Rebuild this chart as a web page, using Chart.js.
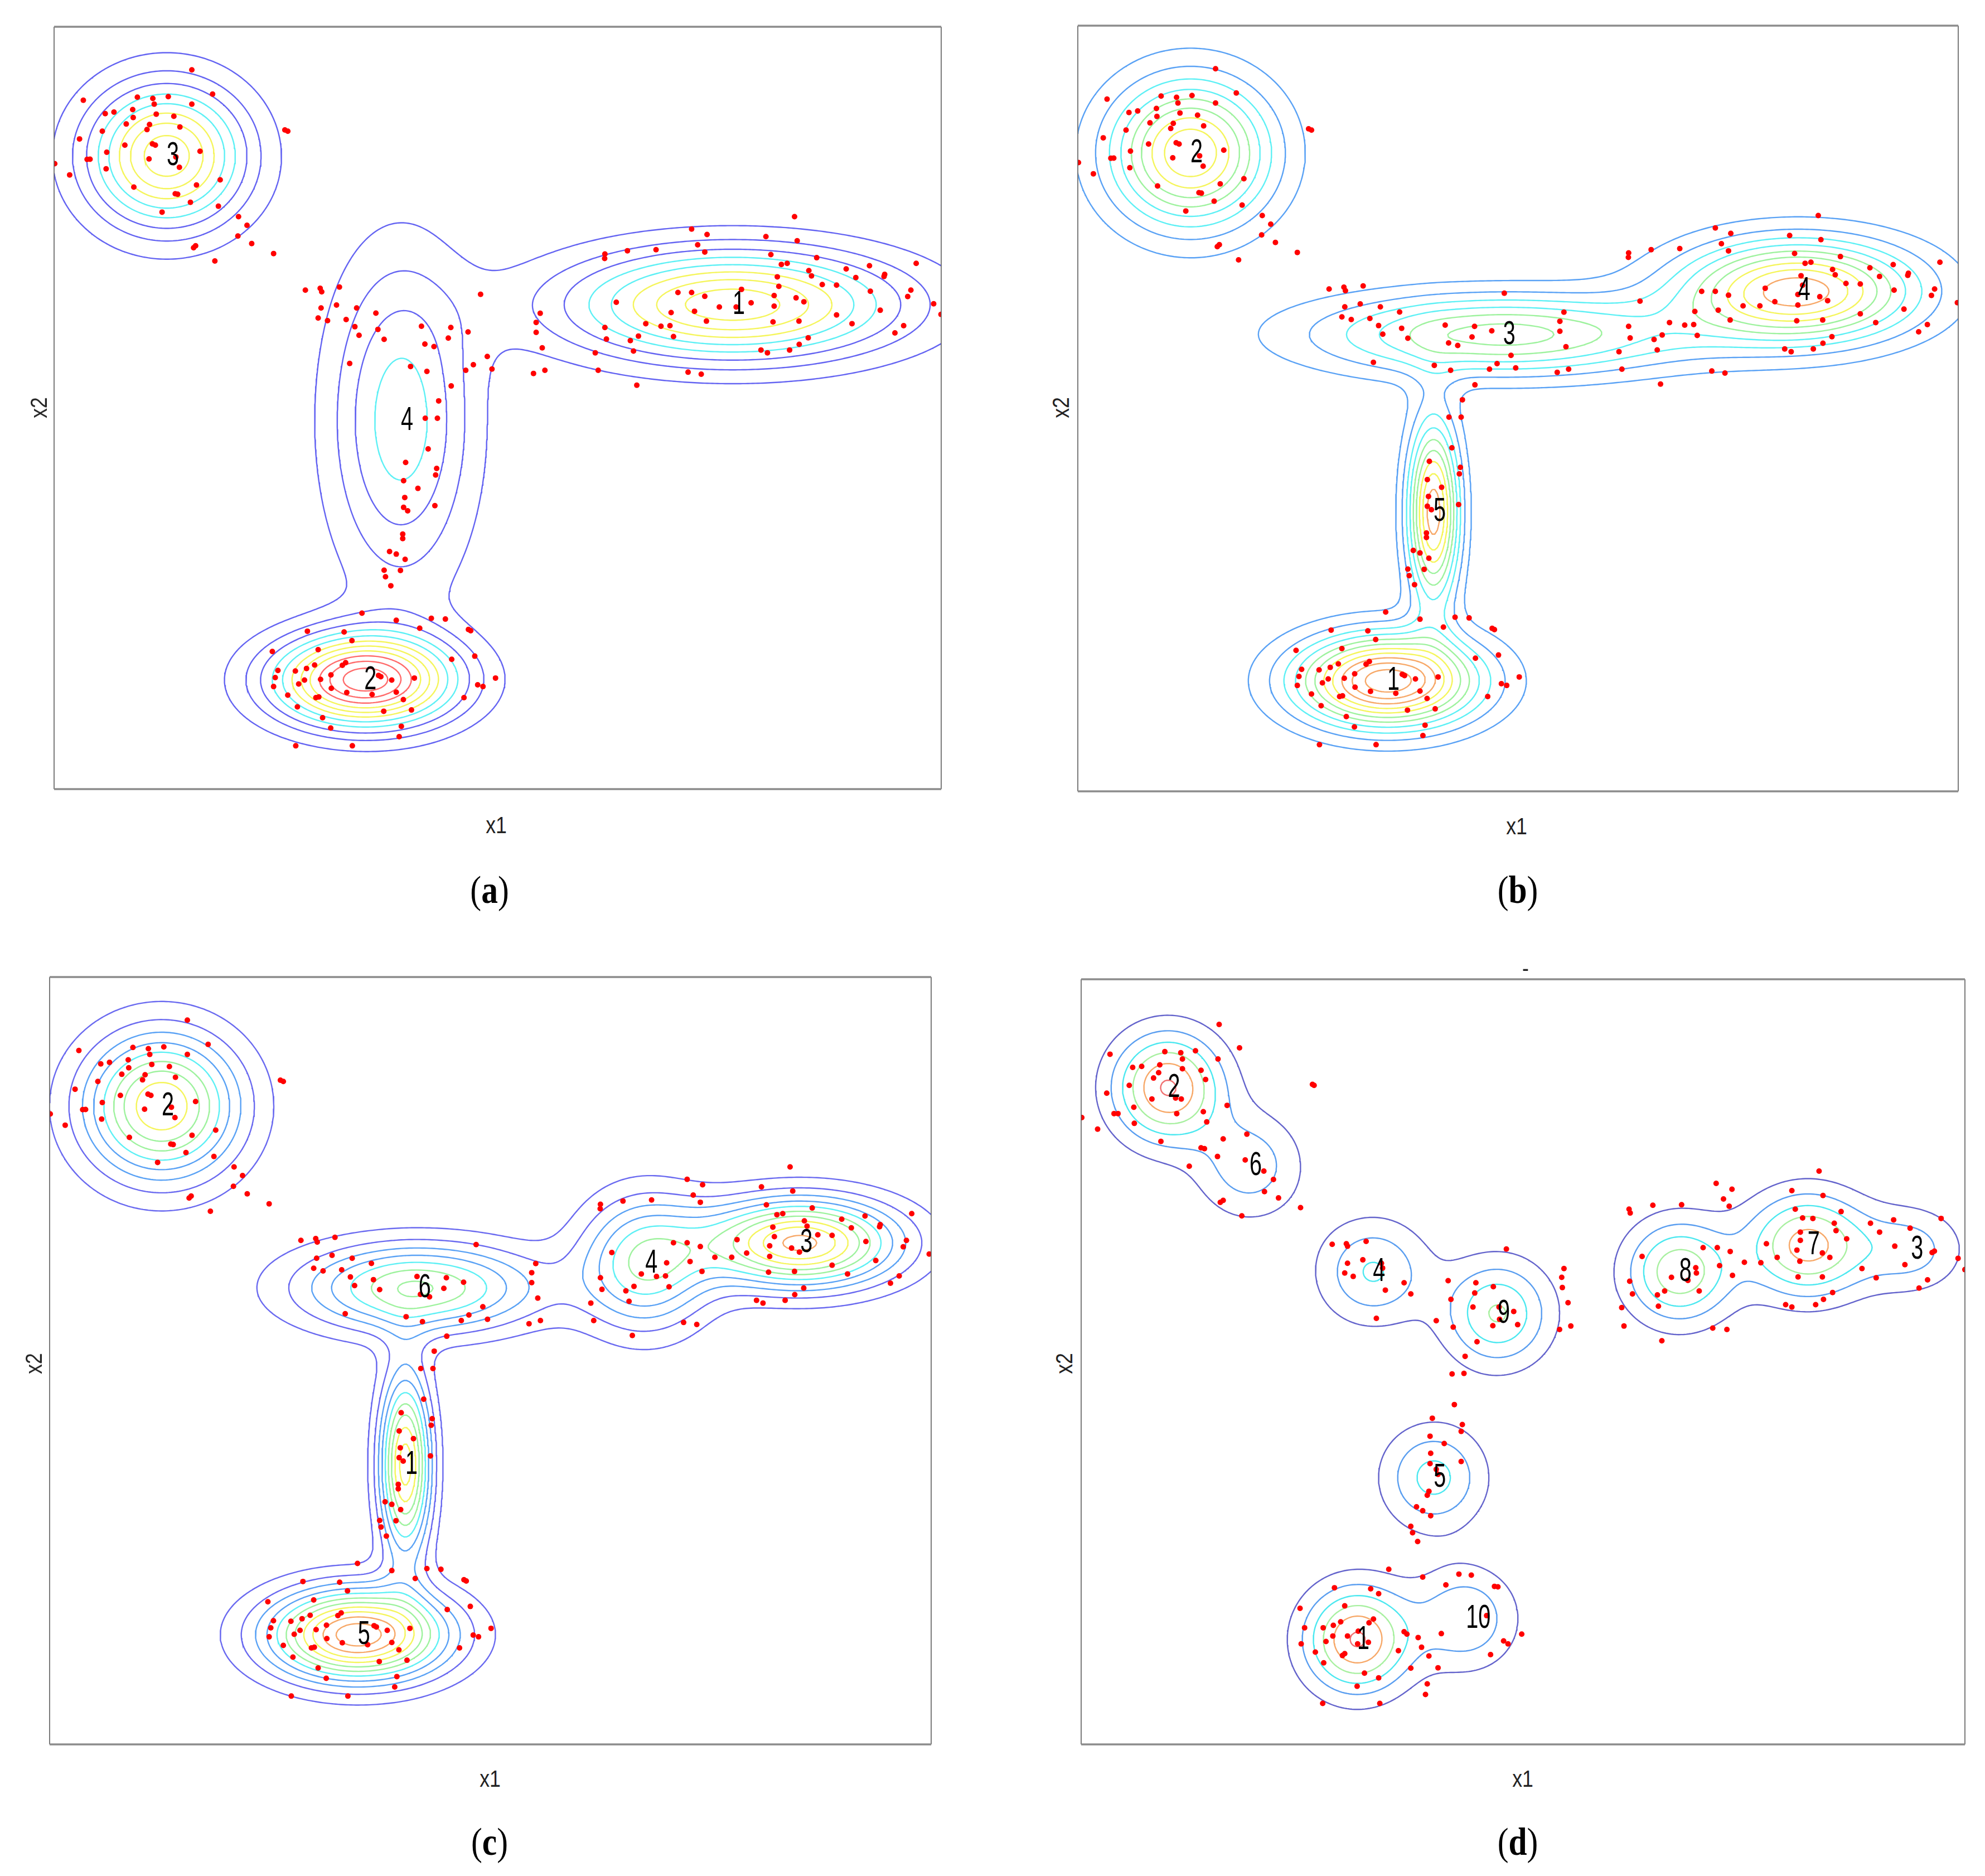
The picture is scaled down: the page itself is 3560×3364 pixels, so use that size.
<!DOCTYPE html>
<html>
<head>
<meta charset="utf-8">
<script src="https://cdn.jsdelivr.net/npm/chart.js@4.4.0/dist/chart.umd.min.js"></script>
<style>
  html, body { margin: 0; padding: 0; background: #fff; }
  #page { position: relative; width: 3560px; height: 3364px; overflow: hidden; background: #fff; }
  #page canvas { position: absolute; }
  .axlab { position: absolute; font-family: "Liberation Sans", Arial, sans-serif; font-size: 42px; color: #222; white-space: nowrap; }
  .cap { position: absolute; font-family: "Liberation Serif", "DejaVu Serif", serif; font-size: 70px; color: #000; white-space: nowrap; transform: translate(-50%, -50%); }
</style>
</head>
<body>
<div id="page"></div>
<script>
// observations shared by panels (a), (b) and (c): [x1, x2] (x2 counted from the top of the box)
const pointsABC = [
  [108.8,34.0],[23.1,58.0],[65.8,55.6],[78.0,56.6],[79.1,61.1],[90.2,55.2],[125.2,53.2],[108.8,61.1],[40.4,68.6],[47.3,67.4],
  [62.1,65.4],[62.5,71.7],[80.7,69.0],[94.6,70.7],[57.0,76.8],[75.4,77.2],[73.4,81.2],[99.4,79.2],[38.1,82.5],[20.1,88.6],
  [55.9,93.5],[77.7,92.5],[80.0,93.5],[115.3,98.3],[41.6,99.1],[26.1,104.7],[28.4,104.6],[75.0,104.4],[96.2,102.8],[99.0,111.0],
  [0.5,108.1],[12.3,117.0],[41.1,112.2],[131.2,120.9],[112.5,125.0],[63.0,126.6],[95.7,131.9],[97.6,132.3],[107.7,138.6],[129.8,141.7],
  [85.3,146.4],[182.3,81.5],[184.6,82.5],[145.7,150.0],[152.4,156.8],[145.2,165.3],[156.1,171.2],[110.2,174.5],[111.8,173.0],[173.4,179.1],
  [127.0,185.0],
  [198.5,208.0],[210.2,206.6],[211.4,209.3],[225.4,205.6],[210.9,222.1],[223.1,219.8],[239.0,222.1],[254.2,226.2],[208.6,230.0],[216.0,232.1],
  [230.7,231.2],[237.6,236.9],[240.9,243.7],[255.8,239.0],[260.7,246.9],[290.2,236.5],[313.4,237.5],[327.0,241.0],[311.4,245.9],[292.9,250.6],
  [300.1,252.6],[336.9,211.3],[233.5,265.9],[281.6,268.3],[294.5,272.2],[325.2,271.3],[331.2,266.9],[342.2,260.4],[345.9,270.3],[313.7,283.7],
  [303.8,295.5],
  [584.9,150.0],[503.6,159.8],[515.8,164.1],[562.3,165.7],[587.0,169.0],[508.4,172.2],[514.0,177.9],[566.2,179.9],[435.1,179.5],[434.9,183.0],
  [452.9,176.9],[475.5,176.1],[602.4,182.4],[574.5,187.7],[579.1,186.9],[681.0,186.9],[644.1,188.7],[625.7,191.3],[596.2,192.6],[598.3,196.8],
  [656.1,195.6],[655.6,197.2],[633.3,198.1],[571.3,197.5],[572.5,205.0],[606.8,203.6],[618.1,204.0],[543.0,207.4],[492.8,209.9],[503.6,209.9],
  [514.0,212.9],[568.8,212.3],[586.1,214.1],[592.3,217.2],[644.8,208.9],[676.8,208.0],[674.3,213.1],[444.1,217.6],[550.6,218.0],[525.5,221.3],
  [538.8,221.3],[568.8,220.7],[505.9,224.7],[487.4,225.7],[694.8,218.8],[700.6,227.2],[652.6,223.9],[618.1,227.6],[384.0,226.3],[380.8,233.5],
  [380.8,241.4],[515.3,232.5],[467.4,234.5],[479.4,236.5],[486.5,236.1],[435.1,237.5],[567.9,233.1],[588.4,232.5],[630.3,234.5],[671.1,236.1],
  [664.2,241.8],[461.6,244.3],[489.3,244.7],[436.3,246.7],[455.2,247.9],[595.7,245.7],[588.6,250.8],[385.6,253.6],[457.7,256.1],[427.5,257.5],
  [558.4,255.3],[563.5,257.5],[581.0,255.3],[378.7,273.8],[387.7,271.3],[429.8,271.3],[500.8,272.8],[511.2,274.4],[460.3,283.1],
  [293.2,309.2],[302.8,309.2],[295.5,333.4],[277.7,344.1],[302.2,348.8],[301.4,354.0],[276.1,358.5],[287.4,364.6],[277.0,371.8],[300.8,378.2],
  [276.1,379.6],[279.3,382.3],[275.4,400.7],[275.4,404.2],[265.0,414.5],[270.3,416.5],[277.3,420.6],[260.7,429.2],[261.8,434.4],[273.6,429.4],
  [266.0,441.5],
  [243.2,463.1],[270.3,468.8],[298.0,467.2],[309.1,467.8],[200.1,477.4],[229.1,478.0],[288.8,475.0],[327.3,476.0],[329.1,477.0],[235.3,484.8],
  [172.4,493.4],[208.6,492.0],[332.3,497.1],[314.1,499.6],[230.3,502.2],[205.8,504.1],[176.8,508.4],[190.6,508.8],[199.4,506.8],[174.7,514.0],
  [218.7,511.9],[227.7,504.3],[256.3,512.3],[258.1,513.3],[266.7,516.0],[284.6,514.4],[348.7,514.4],[193.2,519.1],[197.8,516.0],[210.5,515.4],
  [173.4,521.1],[219.0,522.5],[231.2,525.8],[251.2,527.3],[270.3,525.6],[334.6,519.7],[338.8,521.1],[184.6,527.9],[206.8,529.9],[209.1,529.3],
  [275.9,531.4],[323.8,529.9],[192.2,537.1],[260.4,540.6],[282.3,539.6],[212.1,545.7],[218.5,553.9],[274.3,552.5],[272.6,560.7],[190.9,567.9],
  [235.6,567.9]
];

// observations of panel (d)
const pointsD = [
  [109.0,35.7],[125.1,54.2],[22.8,59.2],[66.1,57.2],[78.7,58.0],[90.3,56.5],[80.0,63.0],[108.1,63.0],[40.7,69.6],[47.8,68.8],
  [62.1,67.6],[80.0,70.7],[94.7,71.9],[61.2,73.8],[57.2,78.0],[98.3,79.2],[38.0,83.8],[182.7,83.0],[184.0,83.8],[20.2,90.0],
  [55.9,94.6],[74.6,93.8],[79.1,94.6],[115.3,99.6],[41.6,101.1],[96.5,104.6],[26.0,106.1],[29.1,106.1],[75.5,106.1],[0.5,109.2],
  [99.2,112.7],[42.0,113.8],[13.0,118.4],[130.9,122.3],[112.2,126.1],[63.0,128.1],[94.7,133.1],[97.4,133.8],[107.7,140.0],[129.6,142.7],
  [85.4,147.7],[144.3,151.5],[151.9,158.1],[144.8,167.7],[155.9,172.7],[109.9,176.2],[112.2,174.6],[173.3,180.4],[126.9,186.9],
  [198.3,209.3],[209.5,208.9],[210.4,210.8],[225.1,207.0],[335.9,213.1],[222.5,221.6],[210.4,224.3],[237.2,224.3],[238.1,228.1],[208.2,232.0],
  [214.9,234.7],[381.4,228.5],[379.6,235.4],[255.1,239.7],[240.3,245.5],[260.4,248.5],[289.9,238.1],[311.8,239.7],[325.6,242.8],[380.1,243.5],
  [292.1,252.8],[310.9,247.8],[309.5,258.9],[330.1,258.9],[341.7,262.4],[384.6,255.5],[233.2,267.8],[280.5,269.7],[330.5,268.6],[325.2,273.6],
  [344.8,272.8],[293.9,274.7],[377.9,276.6],[386.8,273.9],[312.7,286.3],[303.3,297.8],[293.0,311.7],[302.4,311.3],[294.8,335.9],
  [277.4,346.7],[301.1,351.7],[300.2,357.1],[275.6,360.9],[286.8,366.7],[276.1,374.4],[300.2,380.9],[275.6,382.5],[280.5,387.1],[281.9,391.0],
  [274.7,404.4],[273.4,407.5],[264.9,416.7],[269.8,419.8],[276.1,423.7],[260.4,432.1],[261.8,437.1],[265.8,444.1],
  [243.0,466.0],[269.8,472.2],[298.4,469.8],[308.2,470.6],[288.1,478.3],[326.5,479.5],[329.2,479.9],[200.1,480.6],[228.7,481.4],[235.0,485.3],
  [172.9,496.8],[208.2,494.9],[230.9,505.3],[227.4,508.3],[205.0,507.5],[199.2,510.3],[191.2,512.2],[176.5,512.2],[320.3,502.6],[255.1,515.3],
  [257.3,517.2],[218.9,514.9],[210.4,518.7],[198.8,518.7],[193.4,523.0],[266.2,519.9],[284.5,516.8],[348.0,517.2],[226.9,523.7],[218.4,524.9],
  [173.8,524.9],[333.7,522.6],[337.2,524.9],[268.9,527.6],[185.0,531.4],[208.2,532.6],[206.4,534.1],[250.6,530.3],[191.6,539.9],[274.7,534.5],
  [323.4,533.4],[260.4,544.1],[281.9,543.8],[223.8,548.0],[235.0,551.8],[218.0,558.4],[273.4,556.5],[272.0,564.9],[190.8,571.9],[235.9,571.9],
  [582.9,151.5],[501.6,161.2],[514.1,165.8],[561.4,166.9],[507.4,173.5],[511.9,179.3],[586.0,170.8],[451.6,178.5],[474.3,178.1],[432.8,181.6],
  [433.7,184.6],[564.1,181.6],[600.3,183.5],[679.3,188.9],[569.9,188.5],[578.0,188.9],[594.9,192.7],[641.8,190.0],[623.5,192.7],[654.8,196.6],
  [596.3,198.5],[604.7,205.0],[630.7,199.7],[568.1,199.7],[568.1,206.2],[491.3,212.0],[502.5,212.0],[512.7,215.0],[541.3,208.9],[549.8,219.7],
  [565.4,213.9],[585.5,216.2],[591.4,219.7],[642.7,210.8],[674.0,214.7],[672.2,215.8],[692.7,220.4],[567.7,222.7],[443.1,218.9],[504.3,226.2],
  [523.9,223.5],[536.9,223.9],[650.7,225.4],[616.8,228.5],[698.1,229.3],[485.5,227.8],[486.0,232.0],[466.3,235.4],[514.5,233.9],[566.3,235.1],
  [585.5,235.1],[628.0,235.8],[668.6,237.4],[479.3,237.8],[433.3,238.5],[661.9,243.9],[460.9,246.2],[488.2,246.2],[593.6,247.4],[455.2,249.3],
  [435.5,248.5],[586.4,252.8],[556.5,257.0],[561.4,258.9],[580.2,257.0],[456.0,258.2],[427.0,259.3],[428.8,273.9],[498.9,275.5],[510.1,276.6],
  [458.7,285.5]
];

// mixture components: [label, mean x1, mean x2, sd x1, sd x2, peak height]
const compA = [
  ['1', 536, 219.5, 91, 30, 8.7],
  ['2', 245, 516, 50, 25.3, 11.45],
  ['3', 89, 102, 43.4, 39.2, 8.7],
  ['4', 274, 311, 39, 89, 4.6]
];
const compB = [
  ['1', 244.5, 517.5, 49.5, 25, 11.7],
  ['2', 89, 100.5, 43.3, 39.5, 8.95],
  ['3', 336, 244, 100, 22, 6.45],
  ['4', 569, 209.5, 64, 27.5, 9.6],
  ['5', 281, 384, 14, 50, 9.6]
];
const compC = [
  ['1', 281, 385, 14, 50, 9.5],
  ['2', 88.5, 102, 42.3, 39.5, 8.95],
  ['3', 593, 210, 53, 24, 10.3],
  ['4', 470.5, 226, 35, 36, 5.9],
  ['5', 243.5, 519.5, 49, 25, 11.7],
  ['6', 291.5, 245.5, 64.6, 24, 7.05]
];
const compD = [
  ['1', 218, 521.5, 29, 29, 6.1],
  ['2', 68.5, 85.5, 30, 30, 6.1],
  ['3', 655.5, 213.5, 28.7, 23.2, 2.4],
  ['4', 230.5, 231, 30, 28.5, 3.1],
  ['5', 278.5, 393.5, 28, 28, 3.35],
  ['6', 133, 147.5, 29, 29, 2.6],
  ['7', 573.8, 210, 33, 28.5, 5.45],
  ['8', 472.5, 231, 29, 28, 4.8],
  ['9', 329, 264, 29, 29, 4.1],
  ['10', 304, 505, 28, 28, 2.92]
];

// contour levels
const levelsABC = [1, 2, 3, 4, 5, 6, 7, 8, 9, 10, 11];
const levelsD = [1, 2, 3, 4, 5, 6];

const captions = ['a', 'b', 'c', 'd'];

// ---- styles ----
const colorsA = ['#6464f2','#6464f2','#6464f2','#5ef0f5','#5ef0f5','#f5f55c','#f5f55c','#f5f55c','#ff6b6b','#ff6b6b','#ff6b6b'];
const colorsB = ['#5aa2f5','#5aa2f5','#5ef0f5','#5ef0f5','#9ef29e','#9ef29e','#f5f55c','#f5f55c','#f7a868','#f7a868','#f7a868'];
const colorsC = ['#6a6af0','#6a6af0','#5aa2f5','#5aa2f5','#5ef0f5','#9ef29e','#9ef29e','#f5f55c','#f5f55c','#f7a868','#f7a868'];
const colorsD = ['#6464cc','#5a9ef0','#4ce8f0','#a8f0a0','#f7a868','#f07070'];

const SCALE = 2.2704;   // page px per data unit
const PAD = 6;
const GRID = 2;

const panels = [
  { frame: [97, 48, 1591, 1367],   pts: pointsABC, comps: compA, levels: levelsABC, colors: colorsA, xl: [890, 1480],  yl: [70, 731],    cap: [878, 1596] },
  { frame: [1933, 46, 1579, 1373], pts: pointsABC, comps: compB, levels: levelsABC, colors: colorsB, xl: [2720, 1482], yl: [1903, 731],  cap: [2722, 1596] },
  { frame: [89, 1752, 1581, 1376], pts: pointsABC, comps: compC, levels: levelsABC, colors: colorsC, xl: [879, 3190],  yl: [61, 2445],   cap: [878, 3303] },
  { frame: [1939, 1756, 1585, 1372], pts: pointsD, comps: compD, levels: levelsD,   colors: colorsD, xl: [2731, 3190], yl: [1909, 2445], cap: [2722, 3303] }
];

// mixture height on a regular grid
function mixtureGrid(comps, xMax, yMax) {
  const nx = Math.ceil(xMax / GRID) + 1, ny = Math.ceil(yMax / GRID) + 1;
  const xs = [], ys = [];
  for (let i = 0; i < nx; i++) xs.push(Math.min(i * GRID, xMax));
  for (let j = 0; j < ny; j++) ys.push(Math.min(j * GRID, yMax));
  const f = new Float64Array(nx * ny);
  for (let j = 0; j < ny; j++) {
    for (let i = 0; i < nx; i++) {
      let s = 0;
      for (const c of comps) {
        const dx = (xs[i] - c[1]) / c[3], dy = (ys[j] - c[2]) / c[4];
        s += c[5] * Math.exp(-0.5 * (dx * dx + dy * dy));
      }
      f[j * nx + i] = s;
    }
  }
  return { f, nx, ny, xs, ys };
}

// marching squares, segments chained into polylines
function contourLines(g, L) {
  const { f, nx, ny, xs, ys } = g;
  const pos = new Map(), adj = new Map();
  const hp = (i, j) => {
    const k = (j * nx + i) * 2;
    if (!pos.has(k)) { const a = f[j * nx + i], b = f[j * nx + i + 1], t = (L - a) / (b - a); pos.set(k, [xs[i] + t * (xs[i + 1] - xs[i]), ys[j]]); }
    return k;
  };
  const vp = (i, j) => {
    const k = (j * nx + i) * 2 + 1;
    if (!pos.has(k)) { const a = f[j * nx + i], b = f[(j + 1) * nx + i], t = (L - a) / (b - a); pos.set(k, [xs[i], ys[j] + t * (ys[j + 1] - ys[j])]); }
    return k;
  };
  const link = (a, b) => {
    if (!adj.has(a)) adj.set(a, []);
    if (!adj.has(b)) adj.set(b, []);
    adj.get(a).push(b); adj.get(b).push(a);
  };
  for (let j = 0; j < ny - 1; j++) {
    for (let i = 0; i < nx - 1; i++) {
      const v00 = f[j * nx + i], v10 = f[j * nx + i + 1], v01 = f[(j + 1) * nx + i], v11 = f[(j + 1) * nx + i + 1];
      const c = (v00 >= L ? 1 : 0) | (v10 >= L ? 2 : 0) | (v11 >= L ? 4 : 0) | (v01 >= L ? 8 : 0);
      if (c === 0 || c === 15) continue;
      const B = () => hp(i, j), R = () => vp(i + 1, j), T = () => hp(i, j + 1), Lf = () => vp(i, j);
      const mid = (v00 + v10 + v01 + v11) / 4;
      switch (c) {
        case 1: case 14: link(Lf(), B()); break;
        case 2: case 13: link(B(), R()); break;
        case 3: case 12: link(Lf(), R()); break;
        case 4: case 11: link(R(), T()); break;
        case 6: case 9: link(B(), T()); break;
        case 7: case 8: link(Lf(), T()); break;
        case 5:
          if (mid >= L) { link(B(), R()); link(T(), Lf()); } else { link(Lf(), B()); link(R(), T()); }
          break;
        case 10:
          if (mid >= L) { link(Lf(), B()); link(R(), T()); } else { link(B(), R()); link(T(), Lf()); }
          break;
      }
    }
  }
  const used = new Set(), lines = [];
  const walk = (s) => {
    const line = [s]; used.add(s); let cur = s;
    for (;;) {
      const nb = adj.get(cur); let nxt = -1;
      for (const n of nb) if (!used.has(n)) { nxt = n; break; }
      if (nxt < 0) { if (line.length > 2 && nb.includes(s)) line.push(s); break; }
      used.add(nxt); line.push(nxt); cur = nxt;
    }
    lines.push(line.map(k => pos.get(k)));
  };
  for (const [k, nb] of adj) if (nb.length === 1 && !used.has(k)) walk(k);
  for (const k of adj.keys()) if (!used.has(k)) walk(k);
  return lines;
}

// box round the plot area
const framePlugin = {
  id: 'frameBox',
  afterDraw(chart) {
    const { ctx, chartArea: { left, top, right, bottom } } = chart;
    ctx.save();
    ctx.strokeStyle = '#5a5a5a'; ctx.lineWidth = 1.6;
    ctx.beginPath();
    ctx.moveTo(left, top); ctx.lineTo(left, bottom);
    ctx.moveTo(right, top); ctx.lineTo(right, bottom);
    ctx.stroke();
    ctx.strokeStyle = '#8c8c8c'; ctx.lineWidth = 3.5;
    ctx.beginPath();
    ctx.moveTo(left, top); ctx.lineTo(right, top);
    ctx.moveTo(left, bottom); ctx.lineTo(right, bottom);
    ctx.stroke();
    ctx.restore();
  }
};

// component numbers written at the component means
const labelPlugin = {
  id: 'compLabels',
  afterDatasetsDraw(chart, args, opts) {
    const { ctx, scales: { x, y } } = chart;
    ctx.save();
    ctx.fillStyle = '#000';
    ctx.font = '60px "Liberation Sans", Arial, sans-serif';
    ctx.textAlign = 'left';
    ctx.textBaseline = 'middle';
    opts.comps.forEach(c => {
      ctx.save();
      ctx.translate(x.getPixelForValue(c[1]), y.getPixelForValue(c[2]));
      ctx.scale(0.66, 1);
      ctx.fillText(c[0], 0, 0);
      ctx.restore();
    });
    ctx.restore();
  }
};

const page = document.getElementById('page');

function addText(cls, html, x, y, rotate) {
  const d = document.createElement('div');
  d.className = cls;
  d.innerHTML = html;
  d.style.left = x + 'px';
  d.style.top = y + 'px';
  d.style.transform = 'translate(-50%, -50%)' + (rotate ? ' rotate(-90deg)' : '') + ' scaleX(0.85)';
  page.appendChild(d);
}

panels.forEach((p, n) => {
  const [fl, ft, fw, fh] = p.frame;
  const cv = document.createElement('canvas');
  cv.width = fw + 2 * PAD; cv.height = fh + 2 * PAD;
  cv.style.left = (fl - PAD) + 'px'; cv.style.top = (ft - PAD) + 'px';
  cv.style.width = cv.width + 'px'; cv.style.height = cv.height + 'px';
  page.appendChild(cv);

  const xMax = fw / SCALE, yMax = fh / SCALE;
  const grid = mixtureGrid(p.comps, xMax, yMax);

  const datasets = [{
    type: 'scatter',
    data: p.pts.map(([x, y]) => ({ x, y })),
    pointRadius: 5,
    pointBackgroundColor: '#ff0000',
    pointBorderWidth: 0,
    order: 0
  }];
  p.levels.forEach((lv, k) => {
    const data = [];
    contourLines(grid, lv).forEach(line => {
      line.forEach(([x, y]) => data.push({ x, y }));
      data.push({ x: NaN, y: NaN });
    });
    datasets.push({
      type: 'line',
      data,
      showLine: true,
      borderColor: p.colors[k],
      borderWidth: 2.4,
      pointRadius: 0,
      fill: false,
      tension: 0,
      spanGaps: false,
      order: 1
    });
  });

  new Chart(cv, {
    type: 'scatter',
    data: { datasets },
    options: {
      responsive: false,
      animation: false,
      devicePixelRatio: 1,
      events: [],
      layout: { padding: PAD },
      plugins: { legend: { display: false }, tooltip: { enabled: false }, compLabels: { comps: p.comps } },
      scales: {
        x: { type: 'linear', min: 0, max: xMax, display: false },
        y: { type: 'linear', min: 0, max: yMax, reverse: true, display: false }
      }
    },
    plugins: [framePlugin, labelPlugin]
  });

  addText('axlab', 'x1', p.xl[0], p.xl[1], false);
  addText('axlab', 'x2', p.yl[0], p.yl[1], true);
  addText('cap', '(<b>' + captions[n] + '</b>)', p.cap[0], p.cap[1], false);
});

// stray tick above panel (d)
addText('axlab', '-', 2736, 1737, false);
</script>
</body>
</html>
